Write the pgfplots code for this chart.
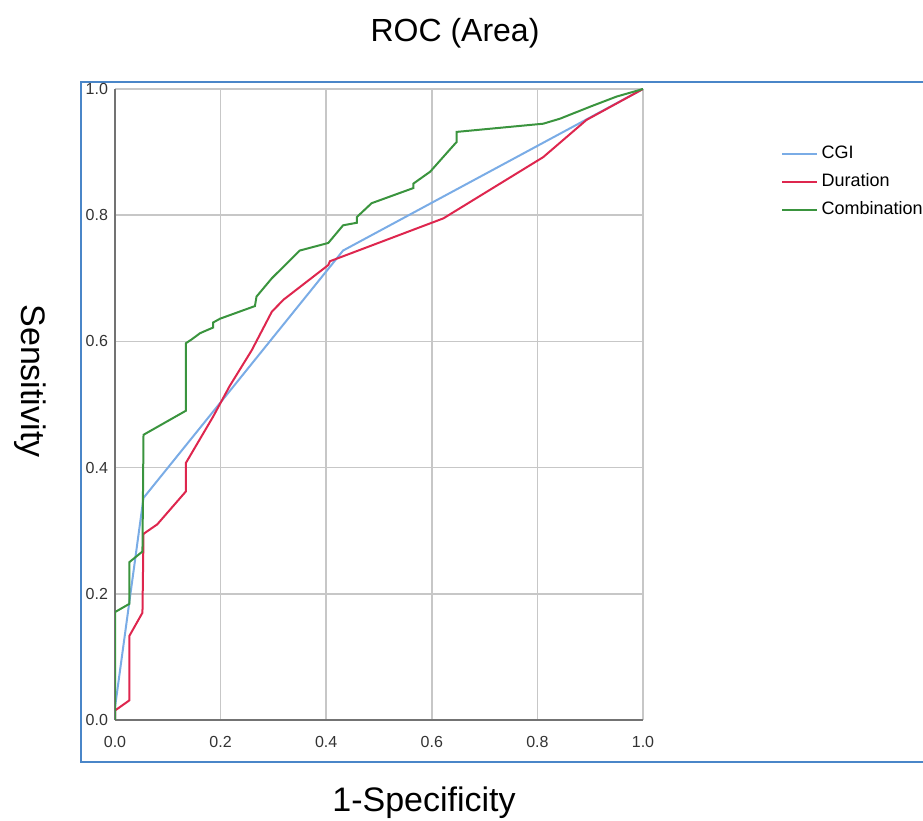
\documentclass[border=0pt]{standalone}
\usepackage{fontspec}
\setmainfont{Liberation Sans}
\usepackage{pgfplots}
\pgfplotsset{compat=1.18}

\definecolor{cgiblue}{RGB}{122,172,230}
\definecolor{durred}{RGB}{222,38,78}
\definecolor{combgreen}{RGB}{58,148,62}
\definecolor{framblue}{RGB}{74,134,200}

\begin{document}
\begin{tikzpicture}
  % page = 923 x 821 px at 0.5pt per px
  \path[use as bounding box] (0,0) rectangle (461.5pt,410.5pt);
  \draw[framblue, line width=1pt] (470pt,369.5pt) -- (40.5pt,369.5pt)
    -- (40.5pt,29.5pt) -- (470pt,29.5pt);

  \begin{axis}[
      at={(57.5pt,50.5pt)}, anchor=south west,
      scale only axis,
      width=264pt, height=315.5pt,
      xmin=0, xmax=1, ymin=0, ymax=1,
      xtick={0,0.2,...,1}, ytick={0,0.2,...,1},
      axis x line*=bottom, axis y line*=left,
      axis line style={-, draw=black!55, line width=0.9pt},
      major tick length=0pt,
      grid=major,
      major grid style={draw=black!22, line width=0.8pt},
      tick label style={font=\fontsize{8}{9}\selectfont, text=black!80},
      /pgf/number format/assume math mode=true,
      xticklabel style={yshift=-4.5pt, /pgf/number format/.cd, fixed, fixed zerofill, precision=1},
      yticklabel style={/pgf/number format/.cd, fixed, fixed zerofill, precision=1},
      legend style={at={(1.250,0.925)}, anchor=north west, draw=none, fill=none,
        font=\fontsize{9}{10}\selectfont, row sep=1pt,
        nodes={inner sep=2pt, text height=7pt, text depth=2pt}},
      legend cell align=left,
    ]
    \addplot[cgiblue, line width=1pt] coordinates {
      (0,0) (0,0.02) (0.054,0.352) (0.432,0.744) (1,1)
    };
    \addlegendentry{CGI}
    \addplot[durred, line width=1pt] coordinates {
      (0,0) (0,0.015) (0.027,0.031) (0.027,0.133) (0.052,0.17) (0.054,0.295)
      (0.08,0.31) (0.134,0.362) (0.134,0.407) (0.186,0.481) (0.217,0.529)
      (0.259,0.586) (0.297,0.647) (0.319,0.666) (0.404,0.721) (0.407,0.727)
      (0.622,0.795) (0.811,0.892) (0.893,0.951) (1,1)
    };
    \addlegendentry{Duration}
    \addplot[combgreen, line width=1pt] coordinates {
      (0,0) (0,0.171) (0.027,0.184) (0.027,0.25) (0.052,0.267) (0.054,0.452)
      (0.134,0.49) (0.134,0.597) (0.145,0.603) (0.161,0.613) (0.186,0.622)
      (0.186,0.63) (0.199,0.636) (0.265,0.656) (0.268,0.671) (0.297,0.70)
      (0.350,0.744) (0.404,0.756) (0.432,0.784) (0.458,0.788) (0.458,0.797)
      (0.486,0.819) (0.565,0.843) (0.565,0.850) (0.597,0.869) (0.633,0.903)
      (0.647,0.916) (0.647,0.932) (0.811,0.945) (0.843,0.953) (0.9,0.972)
      (0.95,0.988) (1,1)
    };
    \addlegendentry{Combination}
  \end{axis}

  \node[font=\fontsize{16}{18}\selectfont] at (227.5pt,394pt) {ROC (Area)};
  \node[font=\fontsize{17}{19}\selectfont] at (212pt,9pt) {1-Specificity};
  \node[font=\fontsize{17}{19}\selectfont, rotate=-90] at (15pt,220pt) {Sensitivity};
\end{tikzpicture}
\end{document}
